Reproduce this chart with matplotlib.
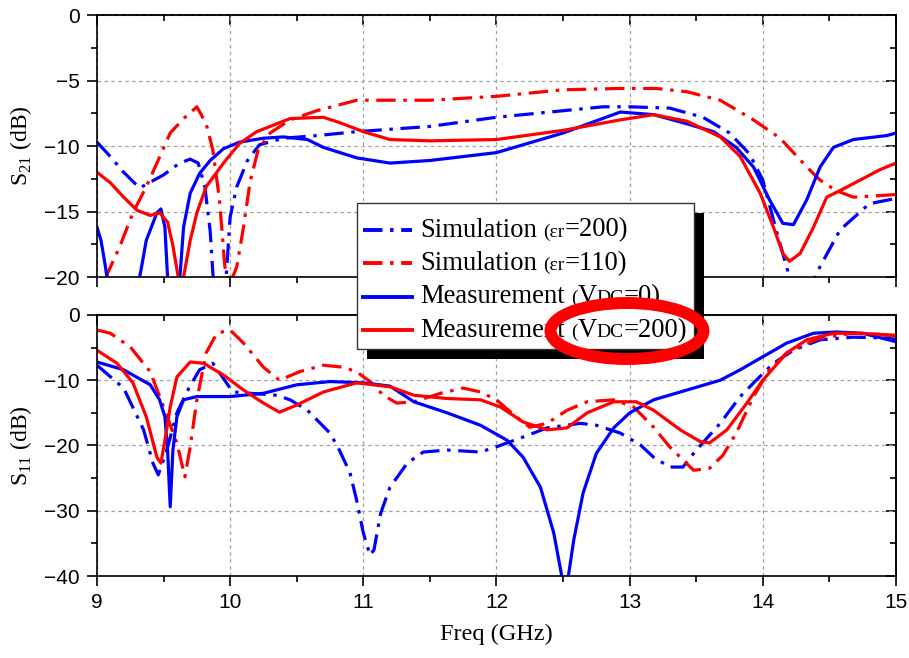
import matplotlib
matplotlib.use("Agg")
import matplotlib.pyplot as plt
from matplotlib.ticker import MultipleLocator
from matplotlib.lines import Line2D
from matplotlib.patches import Ellipse, Rectangle
from matplotlib.offsetbox import TextArea, DrawingArea, HPacker, VPacker, AnchoredOffsetbox

plt.rcParams['font.family'] = ['Liberation Sans', 'DejaVu Sans']
plt.rcParams['mathtext.fontset'] = 'custom'
plt.rcParams['mathtext.rm'] = 'Liberation Serif'
plt.rcParams['lines.scale_dashes'] = False

SERIF = 'Liberation Serif'
BLUE = '#0000ff'
RED = '#ff0000'

# ---- S21 (panel superior) ----
f_sim200_s21 = [9.0, 9.1, 9.2, 9.32, 9.5, 9.62, 9.7, 9.76, 9.81, 9.85, 9.87, 9.9, 9.94, 9.97,
                10.0, 10.05, 10.13, 10.22, 10.4, 10.65, 10.95, 11.5, 12.0, 12.5, 12.8, 13.0,
                13.3, 13.55, 13.75, 13.9, 14.0, 14.1, 14.2, 14.3, 14.43, 14.58, 14.8, 15.0]
s21_sim200 = [-9.7, -10.8, -12.0, -13.2, -12.2, -11.3, -11.0, -11.3, -13.1, -16.5, -19.7, -23.0,
              -23.0, -20.0, -15.4, -13.1, -11.1, -9.9, -9.4, -9.2, -8.9, -8.5, -7.8, -7.3, -7.0,
              -7.0, -7.1, -7.8, -9.0, -10.6, -12.6, -16.4, -20.0, -22.0, -19.2, -16.4, -14.4, -14.0]

f_sim110_s21 = [9.0, 9.08, 9.17, 9.27, 9.37, 9.45, 9.55, 9.65, 9.75, 9.82, 9.87, 9.92, 9.96,
                10.0, 10.05, 10.1, 10.15, 10.21, 10.3, 10.45, 10.65, 10.95, 11.5, 12.0, 12.5,
                12.93, 13.2, 13.43, 13.68, 13.93, 14.13, 14.33, 14.43, 14.55, 14.68, 14.85, 15.0]
s21_sim110 = [-23.0, -19.7, -17.7, -15.1, -13.1, -11.3, -9.0, -7.9, -7.0, -8.3, -10.3, -14.1,
              -19.2, -20.5, -19.2, -16.2, -12.7, -10.3, -9.0, -8.0, -7.3, -6.5, -6.5, -6.2, -5.7,
              -5.6, -5.6, -5.85, -6.5, -8.0, -9.4, -11.6, -12.6, -13.4, -13.9, -13.8, -13.7]

f_meas0_s21 = [9.0, 9.03, 9.06, 9.09, 9.3, 9.33, 9.37, 9.45, 9.48, 9.51, 9.53, 9.56, 9.6, 9.63,
               9.65, 9.7, 9.77, 9.85, 9.95, 10.07, 10.25, 10.4, 10.58, 10.7, 10.95, 11.2, 11.5,
               12.0, 12.5, 12.93, 13.18, 13.43, 13.63, 13.8, 13.93, 14.05, 14.15, 14.23, 14.33,
               14.43, 14.53, 14.68, 14.93, 15.0]
s21_meas0 = [-16.2, -17.2, -19.0, -21.0, -21.0, -19.5, -17.2, -15.1, -14.8, -16.2, -20.0, -23.0,
             -23.0, -19.0, -16.2, -13.6, -12.1, -11.1, -10.2, -9.7, -9.4, -9.3, -9.5, -10.1,
             -10.9, -11.3, -11.1, -10.5, -9.0, -7.4, -7.6, -8.3, -8.9, -10.1, -11.6, -14.1,
             -15.9, -16.0, -14.1, -11.6, -10.1, -9.5, -9.2, -9.0]

f_meas200_s21 = [9.0, 9.1, 9.2, 9.3, 9.4, 9.47, 9.53, 9.57, 9.61, 9.63, 9.65, 9.7, 9.75, 9.82,
                 9.95, 10.07, 10.2, 10.35, 10.45, 10.7, 10.82, 11.0, 11.2, 11.5, 12.0, 12.5,
                 12.93, 13.18, 13.43, 13.68, 13.83, 13.98, 14.08, 14.15, 14.2, 14.28, 14.38,
                 14.48, 14.58, 14.73, 14.88, 15.0]
s21_meas200 = [-12.0, -12.8, -13.9, -14.9, -15.3, -15.1, -15.8, -17.6, -20.0, -21.0, -20.0,
               -17.2, -15.1, -13.1, -11.3, -9.8, -8.9, -8.3, -7.9, -7.8, -8.2, -8.9, -9.5, -9.6,
               -9.5, -8.8, -8.0, -7.6, -8.1, -9.3, -10.8, -13.6, -16.2, -18.2, -18.8, -18.2,
               -16.2, -13.9, -13.4, -12.6, -11.8, -11.3]

# ---- S11 (panel inferior) ----
f_sim200_s11 = [9.0, 9.2, 9.35, 9.42, 9.46, 9.52, 9.6, 9.69, 9.77, 9.87, 10.02, 10.35, 10.45,
                10.58, 10.75, 10.82, 10.9, 10.95, 11.0, 11.05, 11.08, 11.13, 11.2, 11.33, 11.45,
                11.63, 11.88, 12.0, 12.2, 12.38, 12.63, 12.75, 12.93, 13.08, 13.18, 13.3, 13.4,
                13.5, 13.68, 13.83, 13.95, 14.08, 14.23, 14.43, 14.68, 14.88, 15.0]
s11_sim200 = [-7.7, -11.2, -17.6, -22.7, -24.5, -21.0, -15.0, -11.2, -8.4, -7.4, -11.8, -12.3,
              -13.0, -14.6, -18.1, -20.7, -24.2, -28.4, -33.4, -36.8, -36.0, -30.4, -26.4,
              -22.7, -21.0, -20.7, -21.0, -20.2, -18.7, -17.3, -16.6, -16.9, -18.1, -19.9,
              -21.8, -23.3, -23.3, -20.7, -16.6, -12.5, -10.0, -7.4, -5.4, -3.8, -3.4, -3.5, -3.7]

f_sim110_s11 = [9.0, 9.1, 9.25, 9.4, 9.5, 9.6, 9.66, 9.7, 9.75, 9.82, 9.9, 10.0, 10.1, 10.25,
                10.37, 10.52, 10.7, 10.85, 10.95, 11.05, 11.15, 11.25, 11.38, 11.58, 11.75,
                11.88, 12.0, 12.13, 12.25, 12.38, 12.53, 12.68, 12.88, 13.03, 13.18, 13.3,
                13.48, 13.6, 13.7, 13.8, 13.93, 14.05, 14.18, 14.43, 14.68, 15.0]
s11_sim110 = [-2.3, -2.8, -4.9, -8.7, -14.1, -19.6, -24.8, -20.2, -13.0, -5.8, -2.8, -2.3, -4.3,
              -8.0, -10.0, -8.7, -7.7, -8.0, -8.7, -10.2, -12.3, -13.5, -13.3, -12.0, -11.2,
              -11.8, -13.0, -15.3, -17.2, -16.6, -14.6, -13.3, -13.0, -14.1, -17.2, -20.2,
              -23.8, -23.5, -21.5, -18.1, -12.5, -8.4, -5.8, -3.5, -2.8, -3.2]

f_meas0_s11 = [9.0, 9.2, 9.4, 9.47, 9.51, 9.53, 9.55, 9.57, 9.6, 9.65, 9.75, 10.0, 10.25, 10.5,
               10.75, 11.0, 11.2, 11.38, 11.63, 11.88, 12.08, 12.2, 12.33, 12.43, 12.49, 12.52,
               12.54, 12.58, 12.65, 12.75, 12.88, 13.0, 13.18, 13.43, 13.68, 13.83, 14.0, 14.18,
               14.38, 14.55, 14.75, 15.0]
s11_meas0 = [-7.2, -8.4, -10.7, -13.0, -15.6, -20.7, -29.4, -20.7, -15.6, -13.0, -12.5, -12.5,
             -12.0, -10.7, -10.2, -10.4, -10.9, -13.3, -15.0, -16.9, -19.2, -21.8, -26.4, -33.4,
             -40.0, -44.0, -40.0, -34.5, -27.3, -21.2, -17.3, -15.0, -13.0, -11.5, -10.0, -8.4,
             -6.4, -4.3, -2.8, -2.6, -2.8, -4.1]

f_meas200_s11 = [9.0, 9.15, 9.27, 9.37, 9.45, 9.48, 9.51, 9.55, 9.6, 9.7, 9.8, 9.95, 10.1,
                 10.25, 10.37, 10.5, 10.7, 10.95, 11.2, 11.38, 11.63, 11.88, 12.03, 12.2, 12.38,
                 12.53, 12.68, 12.88, 13.05, 13.18, 13.38, 13.53, 13.6, 13.73, 13.88, 14.0,
                 14.18, 14.33, 14.53, 14.73, 15.0]
s11_meas200 = [-5.4, -7.4, -10.4, -15.6, -21.8, -22.7, -19.2, -14.1, -9.5, -7.2, -7.4, -9.2,
               -11.5, -13.5, -14.9, -13.8, -11.8, -10.4, -11.0, -12.3, -12.8, -13.0, -14.1,
               -16.4, -17.6, -17.3, -15.0, -13.3, -13.3, -14.6, -17.6, -19.4, -19.6, -17.6,
               -13.5, -10.0, -5.8, -3.8, -2.8, -2.8, -3.1]

# leyenda: trozos de texto con su tamaño
legend_labels = [
    [("Simulation", 19.2), ("(\u03b5r", 14), ("=200)", 19.2)],
    [("Simulation", 19.2), ("(\u03b5r", 14), ("=110)", 19.2)],
    [("Measurement", 19.2), ("(", 14), ("V", 19.2), ("DC", 14), ("=0)", 19.2)],
    [("Measurement", 19.2), ("(", 14), ("V", 19.2), ("DC", 14), ("=200)", 19.2)],
]

DASHDOT = (0, (14, 5.5, 2.5, 5.5))
estilos = [(BLUE, DASHDOT), (RED, DASHDOT), (BLUE, '-'), (RED, '-')]

fig = plt.figure(figsize=(9.09, 6.58), dpi=100)
ax1 = fig.add_axes([0.1067, 0.579, 0.879, 0.398])
ax2 = fig.add_axes([0.1067, 0.1246, 0.879, 0.3967])


def config_axes(ax, ylim, ymaj, ymin, labels_x):
    ax.set_xlim(9, 15)
    ax.set_ylim(*ylim)
    ax.xaxis.set_major_locator(MultipleLocator(1))
    ax.xaxis.set_minor_locator(MultipleLocator(0.5))
    ax.yaxis.set_major_locator(MultipleLocator(ymaj))
    ax.yaxis.set_minor_locator(MultipleLocator(ymin))
    ax.tick_params(which='both', direction='out', top=False, right=False, width=1.2,
                   labelsize=15, pad=5, labelbottom=labels_x)
    ax.tick_params(which='major', length=7.5)
    ax.tick_params(which='minor', length=4.5)
    ax.grid(True, which='major', color='#a0a0a0', ls=(0, (2.5, 2.5)), lw=0.9)
    for sp in ax.spines.values():
        sp.set_linewidth(1.2)
    # ticks hacia dentro arriba y a la derecha
    sx = ax.secondary_xaxis('top')
    sx.xaxis.set_major_locator(MultipleLocator(1))
    sx.xaxis.set_minor_locator(MultipleLocator(0.5))
    sx.tick_params(which='both', direction='in', labeltop=False, width=1.2)
    sx.tick_params(which='major', length=7.5)
    sx.tick_params(which='minor', length=4.5)
    sx.spines['top'].set_linewidth(1.2)
    sy = ax.secondary_yaxis('right')
    sy.yaxis.set_major_locator(MultipleLocator(ymaj))
    sy.yaxis.set_minor_locator(MultipleLocator(ymin))
    sy.tick_params(which='both', direction='in', labelright=False, width=1.2)
    sy.tick_params(which='major', length=7.5)
    sy.tick_params(which='minor', length=4.5)
    sy.spines['right'].set_linewidth(1.2)


config_axes(ax1, (-20, 0), 5, 2.5, False)
config_axes(ax2, (-40, 0), 10, 5, True)

datos_s21 = [(f_sim200_s21, s21_sim200), (f_sim110_s21, s21_sim110),
             (f_meas0_s21, s21_meas0), (f_meas200_s21, s21_meas200)]
datos_s11 = [(f_sim200_s11, s11_sim200), (f_sim110_s11, s11_sim110),
             (f_meas0_s11, s11_meas0), (f_meas200_s11, s11_meas200)]

for (f, v), (c, ls) in zip(datos_s21, estilos):
    ax1.plot(f, v, color=c, ls=ls, lw=2.3)
for (f, v), (c, ls) in zip(datos_s11, estilos):
    ax2.plot(f, v, color=c, ls=ls, lw=2.3)

ax1.set_ylabel(r'S$_{\mathregular{21}}$ (dB)', family=SERIF, fontsize=17)
ax2.set_ylabel(r'S$_{\mathregular{11}}$ (dB)', family=SERIF, fontsize=17)
ax1.yaxis.set_label_coords(-0.079, 0.5)
ax2.yaxis.set_label_coords(-0.079, 0.5)
ax2.set_xlabel('Freq (GHz)', family=SERIF, fontsize=17.5, labelpad=8)

# leyenda hecha a mano (tamaños de letra mezclados)
filas = [DrawingArea(1, 0, 0, 0)]  # hueco arriba
for partes, (c, ls) in zip(legend_labels, estilos):
    da = DrawingArea(35, 14, 0, 0)
    da.add_artist(Line2D([0, 35], [7, 7], color=c, ls=ls, lw=2.8))
    trozos = [TextArea(partes[0][0], textprops=dict(family=SERIF, fontsize=partes[0][1]))]
    trozos.append(DrawingArea(4.5, 1, 0, 0))
    for txt, tam in partes[1:]:
        trozos.append(TextArea(txt, textprops=dict(family=SERIF, fontsize=tam)))
    texto = HPacker(children=trozos, align='baseline', pad=0, sep=0)
    filas.append(HPacker(children=[da, texto], align='center', pad=0, sep=6))
caja = VPacker(children=filas, align='left', pad=0, sep=6)
leyenda = AnchoredOffsetbox(loc='upper left', child=caja, pad=0.45, borderpad=0,
                            frameon=True, bbox_to_anchor=(357 / 909, 1 - 203 / 658),
                            bbox_transform=fig.transFigure)
leyenda.patch.set_edgecolor('#333333')
leyenda.patch.set_linewidth(1.0)
leyenda.set_zorder(5)
fig.add_artist(leyenda)

fig.canvas.draw()
bb = leyenda.get_window_extent(fig.canvas.get_renderer())
W, H = fig.bbox.width, fig.bbox.height
sombra = Rectangle(((bb.x0 + 10) / W, (bb.y0 - 10) / H), bb.width / W, bb.height / H,
                   transform=fig.transFigure, facecolor='black', edgecolor='none', zorder=4)
fig.add_artist(sombra)

elipse = Ellipse((627 / 909, 1 - 331 / 658), 153 / 909, 56 / 658, transform=fig.transFigure,
                 fill=False, edgecolor=RED, lw=8.6, zorder=10)
fig.add_artist(elipse)

fig.savefig('out.png', dpi=100)
